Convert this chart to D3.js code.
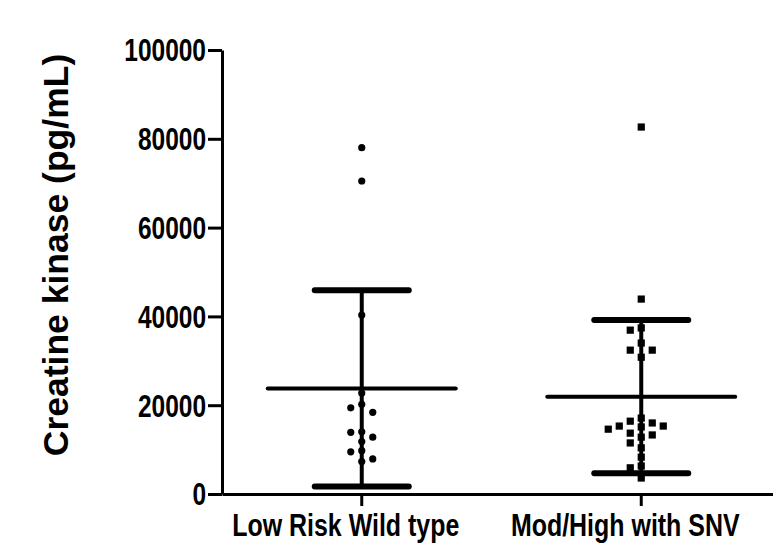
<!DOCTYPE html>
<html>
<head>
<meta charset="utf-8">
<script src="https://cdn.jsdelivr.net/npm/d3@7/dist/d3.min.js"></script>
<style>
  body { margin: 0; background: #fff; }
  text { font-family: "Liberation Sans", Arial, sans-serif; font-weight: bold; fill: #000; }
</style>
</head>
<body>
<div id="chart"></div>
<script>
// categories and the values (pg/mL)
var categories = ["Low Risk Wild type", "Mod/High with SNV"];
var lowRiskValues = [78000, 70500, 40300, 22750, 20200, 19400, 18400, 14000, 13900,
                     12800, 11800, 9750, 9500, 7900, 7300];
var modHighValues = [82650, 43900, 37400, 36900, 34000, 32400, 32400, 30800, 17100,
                     16000, 16400, 15300, 15300, 15100, 14600, 13700, 13300, 12800,
                     11500, 10400, 8300, 6300, 5900, 3600];
var yTicks = [0, 20000, 40000, 60000, 80000, 100000];
var yTitle = "Creatine kinase (pg/mL)";

var W = 773, H = 548;
var svg = d3.select("#chart").append("svg")
  .attr("width", W)
  .attr("height", H);

var x = d3.scaleBand().domain(categories).range([222, 781]);
var y = d3.scaleLinear().domain([0, 100000]).range([494, 50]);

// spread points that sit close together sideways, like a prism scatter
function swarm(values, step, gap) {
  var placed = [];
  var sorted = values.slice().sort(function (a, b) { return b - a; });
  return sorted.map(function (v) {
    var py = y(v);
    for (var k = 0; k < 20; k++) {
      var slot = k === 0 ? 0 : (k % 2 ? -(k + 1) / 2 : k / 2);
      var clash = placed.some(function (p) {
        return p.slot === slot && Math.abs(p.y - py) < gap;
      });
      if (!clash) {
        placed.push({ slot: slot, y: py });
        return { value: v, dx: slot * step };
      }
    }
    return { value: v, dx: 0 };
  });
}

var groups = [
  { name: categories[0], values: lowRiskValues, shape: "circle" },
  { name: categories[1], values: modHighValues, shape: "square" }
];

groups.forEach(function (g) {
  var cx = x(g.name) + x.bandwidth() / 2;
  var mean = d3.mean(g.values);
  var sd = d3.deviation(g.values);
  var layer = svg.append("g");

  // error bar (mean +/- SD)
  layer.append("line")
    .attr("x1", cx).attr("x2", cx)
    .attr("y1", y(mean + sd)).attr("y2", y(mean - sd))
    .attr("stroke", "#000").attr("stroke-width", 4);
  [mean + sd, mean - sd].forEach(function (v) {
    layer.append("line")
      .attr("x1", cx - 47).attr("x2", cx + 47)
      .attr("y1", y(v)).attr("y2", y(v))
      .attr("stroke", "#000").attr("stroke-width", 6)
      .attr("stroke-linecap", "round");
  });
  layer.append("line")
    .attr("x1", cx - 94).attr("x2", cx + 94)
    .attr("y1", y(mean)).attr("y2", y(mean))
    .attr("stroke", "#000").attr("stroke-width", 4)
    .attr("stroke-linecap", "round");

  var pts = swarm(g.values, 11, 8.5);
  if (g.shape === "circle") {
    layer.selectAll("circle.pt").data(pts).enter().append("circle")
      .attr("class", "pt")
      .attr("cx", function (d) { return cx + d.dx; })
      .attr("cy", function (d) { return y(d.value); })
      .attr("r", 3.6)
      .attr("fill", "#000");
  } else {
    layer.selectAll("rect.pt").data(pts).enter().append("rect")
      .attr("class", "pt")
      .attr("x", function (d) { return cx + d.dx - 3.6; })
      .attr("y", function (d) { return y(d.value) - 3.6; })
      .attr("width", 7.2).attr("height", 7.2)
      .attr("fill", "#000");
  }
});

// y axis
var yAxis = svg.append("g")
  .attr("transform", "translate(222,0)")
  .call(d3.axisLeft(y).tickValues(yTicks).tickFormat(d3.format("d"))
    .tickSize(14).tickSizeOuter(0).tickPadding(2));
yAxis.select(".domain").attr("stroke-width", 3);
yAxis.selectAll(".tick line").attr("stroke-width", 3);
yAxis.selectAll(".tick text")
  .attr("font-size", 31)
  .attr("x", null)
  .attr("transform", "translate(-16,1) scale(0.79,1)");

// x axis
var xAxis = svg.append("g")
  .attr("transform", "translate(0,494)")
  .call(d3.axisBottom(x).tickSize(12).tickSizeOuter(0).tickPadding(4));
xAxis.select(".domain").attr("stroke-width", 3);
xAxis.selectAll(".tick line").attr("stroke-width", 3);
xAxis.selectAll(".tick text")
  .attr("font-size", 32)
  .attr("y", null).attr("dy", null)
  .attr("transform", "translate(-16,42) scale(0.78,1)");

// y title
svg.append("text")
  .attr("transform", "translate(68,255) rotate(-90)")
  .attr("text-anchor", "middle")
  .attr("font-size", 35.5)
  .text(yTitle);
</script>
</body>
</html>
